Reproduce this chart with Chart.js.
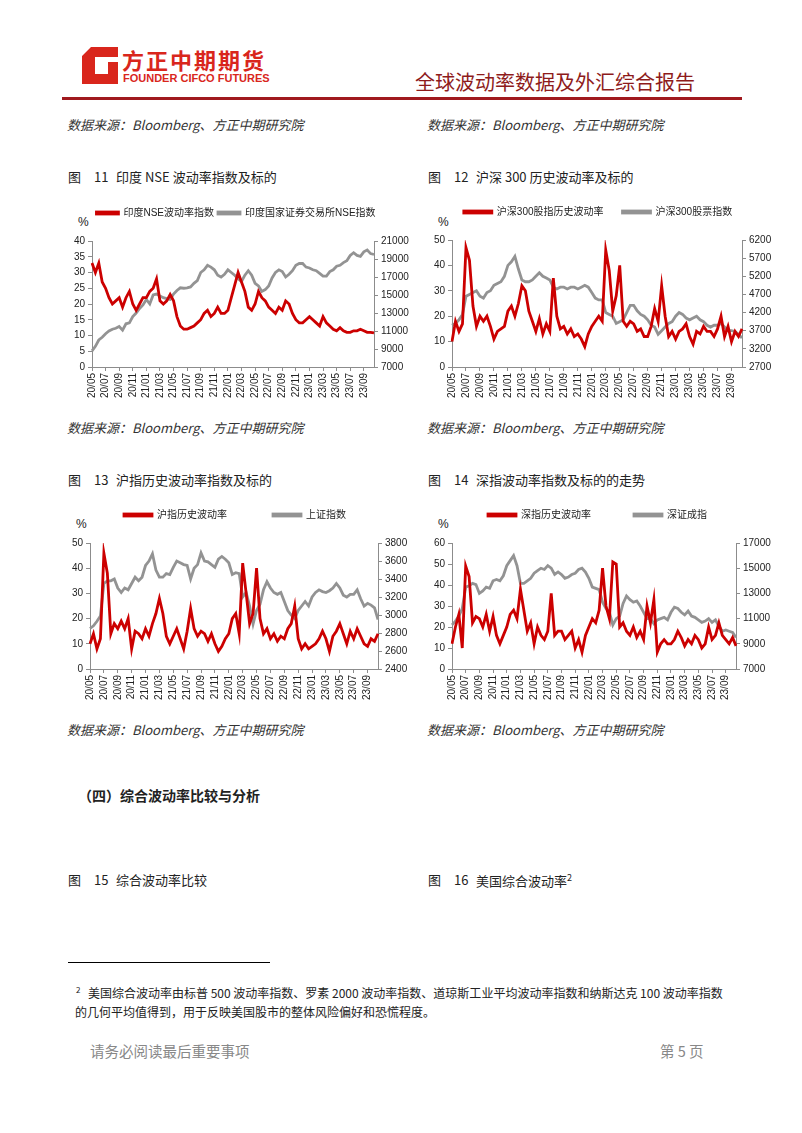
<!DOCTYPE html>
<html>
<head>
<meta charset="utf-8">
<script src="https://cdn.jsdelivr.net/npm/chart.js@4.4.0/dist/chart.umd.min.js"></script>
<style>
  body { margin: 0; width: 802px; height: 1133px; background: #fff; position: relative; overflow: hidden;
         font-family: "Noto Sans CJK SC", "Liberation Sans", sans-serif; color: #222; }
  .t { position: absolute; white-space: nowrap; line-height: 1; }
  .src { font-size: 13px; font-style: italic; color: #333; }
  .cap { font-size: 13px; color: #222; }
  .pct { font-size: 12px; font-family: "Liberation Sans", sans-serif; color: #222; }
  canvas { position: absolute; }
</style>
</head>
<body>

<svg class="t" style="left:82px;top:47px" width="36" height="37">
  <path fill="#d9261c" d="M9 0 H36 V10 H13 V27 H26 V15 H36 V37 H0 V9 Z"/>
</svg>
<div class="t" style="left:122px;top:48px;font-size:22px;font-weight:bold;color:#d9261c;letter-spacing:2px">方正中期期货</div>
<div class="t" style="left:123px;top:73px;font-size:11px;font-weight:bold;color:#d9261c;font-family:'Liberation Sans',sans-serif">FOUNDER CIFCO FUTURES</div>
<div class="t" style="left:415px;top:72px;font-size:20px;color:#8e1b1b">全球波动率数据及外汇综合报告</div>
<div class="t" style="left:62px;top:97px;width:680px;height:3px;background:#a0191e"></div>

<div class="t src" style="left:67px;top:118px">数据来源：Bloomberg、方正中期研究院</div>
<div class="t src" style="left:427px;top:118px">数据来源：Bloomberg、方正中期研究院</div>

<div class="t cap" style="left:68px;top:170px">图</div>
<div class="t cap" style="left:94px;top:170px">11</div>
<div class="t cap" style="left:116px;top:170px">印度 NSE 波动率指数及标的</div>
<div class="t cap" style="left:428px;top:170px">图</div>
<div class="t cap" style="left:454px;top:170px">12</div>
<div class="t cap" style="left:476px;top:170px">沪深 300 历史波动率及标的</div>

<div class="t pct" style="left:78px;top:216px">%</div>
<div class="t pct" style="left:438px;top:216px">%</div>

<div class="t src" style="left:67px;top:421px">数据来源：Bloomberg、方正中期研究院</div>
<div class="t src" style="left:427px;top:421px">数据来源：Bloomberg、方正中期研究院</div>

<div class="t cap" style="left:68px;top:473px">图</div>
<div class="t cap" style="left:94px;top:473px">13</div>
<div class="t cap" style="left:116px;top:473px">沪指历史波动率指数及标的</div>
<div class="t cap" style="left:428px;top:473px">图</div>
<div class="t cap" style="left:454px;top:473px">14</div>
<div class="t cap" style="left:476px;top:473px">深指波动率指数及标的的走势</div>

<div class="t pct" style="left:76px;top:518px">%</div>
<div class="t pct" style="left:438px;top:518px">%</div>

<div class="t src" style="left:67px;top:723px">数据来源：Bloomberg、方正中期研究院</div>
<div class="t src" style="left:427px;top:723px">数据来源：Bloomberg、方正中期研究院</div>

<div class="t" style="left:78px;top:788px;font-size:14px;font-weight:bold">（四）综合波动率比较与分析</div>

<div class="t cap" style="left:68px;top:873px">图</div>
<div class="t cap" style="left:94px;top:873px">15</div>
<div class="t cap" style="left:116px;top:873px">综合波动率比较</div>
<div class="t cap" style="left:428px;top:873px">图</div>
<div class="t cap" style="left:454px;top:873px">16</div>
<div class="t cap" style="left:476px;top:873px">美国综合波动率<sup style="font-size:9px">2</sup></div>

<div class="t" style="left:68px;top:962px;width:202px;height:1px;background:#000"></div>
<div class="t" style="left:76px;top:986px;font-size:8px">2</div>
<div class="t" style="left:88px;top:987px;font-size:12px">美国综合波动率由标普 500 波动率指数、罗素 2000 波动率指数、道琼斯工业平均波动率指数和纳斯达克 100 波动率指数</div>
<div class="t" style="left:75px;top:1006px;font-size:12px">的几何平均值得到，用于反映美国股市的整体风险偏好和恐慌程度。</div>

<div class="t" style="left:90px;top:1044px;font-size:14.5px;color:#888">请务必阅读最后重要事项</div>
<div class="t" style="left:660px;top:1044px;font-size:14.5px;color:#888">第 5 页</div>

<canvas id="c1" width="348" height="199" style="left:62px;top:204px"></canvas>
<canvas id="c2" width="352" height="215" style="left:422px;top:188px"></canvas>
<canvas id="c3" width="350" height="241" style="left:60px;top:464px"></canvas>
<canvas id="c4" width="351" height="238" style="left:422px;top:467px"></canvas>

<script>
// two readings per month, 2020/05 .. 2023/10
const months = [];
for (let y = 2020; y <= 2023; y++) {
  for (let m = 1; m <= 12; m++) {
    if ((y === 2020 && m < 5) || (y === 2023 && m > 10)) continue;
    months.push(String(y).slice(2) + '/' + String(m).padStart(2, '0'));
  }
}
const labels = months.flatMap(m => [m + '/01', m + '/16']);

const tickLabels = ['20/05', '20/07', '20/09', '20/11', '21/01', '21/03', '21/05', '21/07', '21/09', '21/11',
  '22/01', '22/03', '22/05', '22/07', '22/09', '22/11', '23/01', '23/03', '23/05', '23/07', '23/09'];

// 图11
const nseVol = [33, 30, 33, 27, 25, 22, 20, 21, 22, 19, 22, 24, 20, 18, 20, 22,
  22, 24, 25, 28, 21, 20, 21, 23, 21, 16, 13, 12, 12, 12.5, 13, 14, 15, 17, 18, 16, 17, 19, 17, 17,
  18, 22, 26, 30, 27, 24, 19, 18, 20, 24, 22, 21, 19, 18, 17, 19, 18, 21, 20, 17, 15, 14, 14, 15,
  16, 15, 14, 13, 16, 14, 13, 12, 11.5, 12.5, 11.5, 11, 11, 11.5, 11.5, 12, 11.5, 11, 11, 10.8];
const nseIdx = [8800, 9300, 10000, 10300, 10700, 11000, 11200, 11300, 11500, 11100, 11800, 11900, 12600, 13000, 13500, 13900,
  14500, 14000, 15000, 15100, 14900, 14700, 14600, 14500, 15100, 15500, 15800, 15750, 15800, 15900, 16300, 16600,
  17500, 17800, 18300, 18100, 17800, 17200, 17000, 17300,
  17800, 17500, 17200, 16800, 16500, 17200, 17700, 17200, 16300, 16000, 15400, 15600, 16000, 16900, 17500, 17800,
  17600, 17000, 17300, 17700, 18300, 18500, 18500, 18100,
  18000, 17800, 17700, 17400, 17100, 17100, 17600, 17800, 18200, 18300, 18600, 18800, 19400, 19700, 19400, 19300,
  19800, 20000, 19600, 19500];

// 图12
const hs300Vol = [10, 18, 14, 17, 47, 42, 24, 16, 20, 18, 20, 16, 11, 14, 15, 16,
  22, 24, 20, 25, 32, 30, 22, 18, 14, 19, 13, 17, 14, 35, 20, 15, 16, 13, 15, 12, 13, 11, 8, 13,
  16, 18, 20, 18, 46, 38, 22, 28, 40, 18, 16, 18, 17, 14, 15, 12, 12, 16, 23, 18, 32, 20, 12, 14,
  11, 14, 15, 17, 12, 9, 14, 13, 16, 14, 14, 12, 15, 20, 12, 16, 10, 14, 12, 15];
const hs300Idx = [3850, 3900, 4000, 4150, 4650, 4700, 4750, 4800, 4650, 4600, 4750, 4800, 4950, 5000, 5050, 5200,
  5500, 5600, 5750, 5400, 5100, 5050, 5050, 5100, 5200, 5300, 5200, 5150, 5100, 4900, 4850, 4900,
  4900, 4850, 4900, 4900, 4850, 4900, 4950, 4900,
  4750, 4600, 4550, 4550, 4200, 4150, 4100, 3900, 3950, 4000, 4200, 4400, 4400, 4250, 4150, 4100,
  4000, 3850, 3800, 3600, 3700, 3800, 3900, 3950,
  4100, 4200, 4150, 4050, 4000, 4050, 4100, 4000, 3950, 3850, 3800, 3850, 3850, 3900, 3800, 3700,
  3700, 3680, 3600, 3500];

// 图13
const shVol = [10, 14, 8, 12, 46, 38, 14, 18, 16, 19, 16, 20, 8, 15, 14, 12,
  16, 13, 18, 22, 28, 22, 13, 10, 13, 16, 12, 8, 15, 24, 16, 13, 15, 14, 11, 14, 10, 7, 9, 12,
  14, 20, 22, 14, 42, 30, 18, 22, 40, 20, 14, 16, 12, 14, 11, 13, 12, 16, 18, 25, 12, 8, 10, 8,
  9, 10, 12, 15, 12, 7, 13, 15, 18, 14, 10, 15, 12, 16, 13, 10, 9, 12, 11, 14];
const shIdx = [2850, 2880, 2930, 2990, 3350, 3380, 3380, 3400, 3300, 3250, 3300, 3280, 3350, 3420, 3380, 3420,
  3550, 3600, 3680, 3500, 3420, 3420, 3460, 3450, 3530, 3600, 3580, 3560, 3550, 3400, 3520, 3560,
  3690, 3600, 3590, 3560, 3530, 3620, 3650, 3620,
  3580, 3450, 3470, 3460, 3200, 3250, 3100, 2900, 3050, 3120, 3280, 3370, 3300, 3250, 3230, 3250,
  3150, 3050, 3000, 2960, 3050, 3100, 3150, 3100,
  3200, 3250, 3280, 3260, 3250, 3270, 3300, 3350, 3300, 3220, 3200, 3230, 3230, 3280, 3180, 3100,
  3130, 3110, 3080, 2950];

// 图14
const szVol = [12, 20, 26, 10, 49, 44, 22, 25, 24, 20, 26, 18, 25, 16, 12, 16,
  20, 26, 28, 24, 38, 28, 18, 22, 12, 20, 16, 14, 18, 36, 16, 18, 18, 14, 16, 18, 10, 14, 8, 16,
  20, 24, 22, 28, 48, 30, 24, 51, 50, 20, 22, 18, 16, 20, 15, 18, 14, 30, 22, 33, 8, 12, 14, 12,
  12, 14, 18, 15, 11, 14, 12, 16, 14, 10, 12, 20, 14, 16, 22, 16, 14, 12, 15, 11];
const szIdx = [10500, 10800, 11200, 11800, 13500, 13600, 13800, 13700, 13000, 13200, 13500, 13400, 14000, 14100, 14000, 14400,
  15200, 15600, 16000, 15200, 13800, 13800, 14000, 14200, 14600, 14800, 15000, 14900, 15200, 15000, 14500, 14700,
  14500, 14200, 14300, 14500, 14600, 14900, 15000, 14700,
  14200, 13500, 13400, 13300, 12300, 11800, 11500, 10500, 11000, 11200, 12200, 12800, 12500, 12300, 12400, 12000,
  11500, 11000, 11000, 10600, 10900, 11000, 11100, 10900,
  11500, 11900, 11800, 11500, 11300, 11600, 11200, 11100, 10900, 10700, 10800, 11000, 10700, 10900, 10400, 10000,
  10100, 10000, 9900, 9500];

const RED = '#cc0000';
const GRAY = '#939393';
const AXIS = '#8c8c8c';
const FONT = { family: '"Liberation Sans", "Noto Sans CJK SC", sans-serif', size: 10 };

// legend height is forced so the plot top lands where the reference has it
const legendGap = {
  id: 'legendGap',
  beforeInit(chart) {
    const fit = chart.legend.fit;
    chart.legend.fit = function () {
      fit.call(this);
      this.height = chart.options.plugins.legendGap.h;
    };
  }
};

function makeChart(id, o) {
  new Chart(document.getElementById(id), {
    type: 'line',
    data: {
      labels: labels,
      datasets: [
        { label: o.names[0], data: o.red, yAxisID: 'y', borderColor: RED, backgroundColor: RED,
          borderWidth: 2.8, pointRadius: 0, tension: 0 },
        { label: o.names[1], data: o.gray, yAxisID: 'y2', borderColor: GRAY, backgroundColor: GRAY,
          borderWidth: 2.8, pointRadius: 0, tension: 0 }
      ]
    },
    options: {
      responsive: false,
      animation: false,
      layout: { padding: 0 },
      plugins: {
        legend: { labels: { boxWidth: o.box, boxHeight: 2, padding: o.pad, color: '#222', font: FONT } },
        tooltip: { enabled: false },
        legendGap: { h: o.legendH }
      },
      scales: {
        x: {
          ticks: {
            autoSkip: false, minRotation: 90, maxRotation: 90, padding: 2, color: '#222', font: FONT,
            callback: function (v) {
              const l = this.getLabelForValue(v);
              const k = l.slice(0, 5);
              return l.endsWith('/01') && tickLabels.includes(k) ? k : null;
            }
          },
          grid: { drawOnChartArea: false, tickLength: 4, color: AXIS },
          border: { color: AXIS },
          afterFit: s => { s.height = 36; }
        },
        y: {
          position: 'left', min: o.left[0], max: o.left[1],
          ticks: { stepSize: o.left[2], padding: 3, color: '#222', font: FONT },
          grid: { drawOnChartArea: false, tickLength: 4, color: AXIS },
          border: { color: AXIS },
          afterFit: s => { s.width = 30; }
        },
        y2: {
          position: 'right', min: o.right[0], max: o.right[1],
          ticks: { stepSize: o.right[2], padding: 3, color: '#222', font: FONT, callback: v => String(v) },
          grid: { drawOnChartArea: false, tickLength: 4, color: AXIS },
          border: { color: AXIS },
          afterFit: s => { s.width = o.rightW; }
        }
      }
    },
    plugins: [legendGap]
  });
}

makeChart('c1', { names: ['印度NSE波动率指数', '印度国家证券交易所NSE指数'], red: nseVol, gray: nseIdx,
  left: [0, 40, 5], right: [7000, 21000, 2000], rightW: 36, box: 22, pad: 4, legendH: 37 });
makeChart('c2', { names: ['沪深300股指历史波动率', '沪深300股票指数'], red: hs300Vol, gray: hs300Idx,
  left: [0, 50, 5], right: [2700, 6200, 500], rightW: 32, box: 28, pad: 19, legendH: 52 });
makeChart('c3', { names: ['沪指历史波动率', '上证指数'], red: shVol, gray: shIdx,
  left: [0, 50, 5], right: [2400, 3800, 200], rightW: 32, box: 28, pad: 46, legendH: 79 });
makeChart('c4', { names: ['深指历史波动率', '深证成指'], red: szVol, gray: szIdx,
  left: [0, 60, 10], right: [7000, 17000, 1000], rightW: 37, box: 28, pad: 43, legendH: 76 });
</script>
</body>
</html>
